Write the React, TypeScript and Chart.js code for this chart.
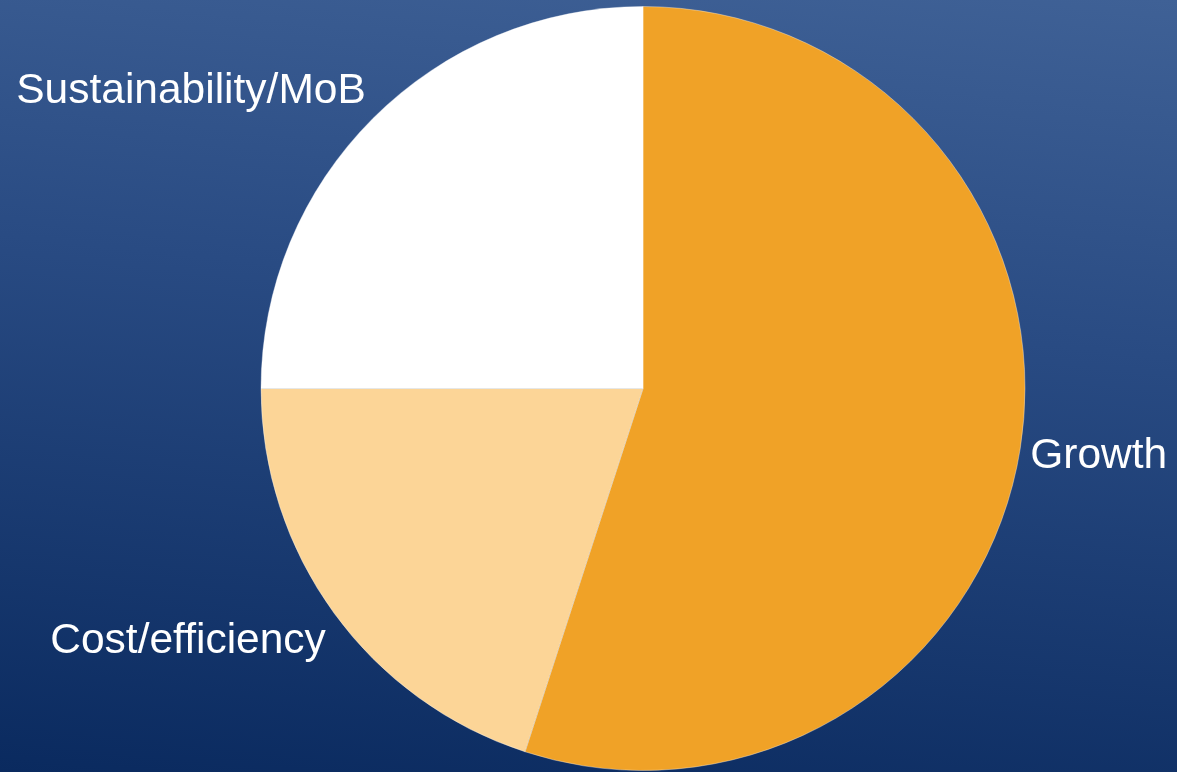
import React, { useEffect, useRef } from "react";
import { Chart, registerables } from "chart.js";

Chart.register(...registerables);

const categories = ["Growth", "Cost/efficiency", "Sustainability/MoB"];
const shares = [55, 20, 25];
const sliceColors = ["#F0A227", "#FCD597", "#FFFFFF"];

const outsideLabels = {
  id: "outsideLabels",
  afterDatasetsDraw(chart: any) {
    const ctx = chart.ctx;
    const meta = chart.getDatasetMeta(0);
    const fontSize = 42.5;
    ctx.save();
    ctx.font = `${fontSize}px "Liberation Sans", Arial, sans-serif`;
    ctx.fillStyle = "#FFFFFF";
    ctx.textBaseline = "middle";
    ctx.textAlign = "left";
    meta.data.forEach((arc: any, i: number) => {
      const mid = (arc.startAngle + arc.endAngle) / 2;
      const r = arc.outerRadius + 10;
      const ax = arc.x + Math.cos(mid) * r;
      const ay = arc.y + Math.sin(mid) * r;
      const text = chart.data.labels[i];
      const w = ctx.measureText(text).width;
      const h = fontSize;
      const hx = Math.max(-1, Math.min(1, Math.cos(mid) * 1.7));
      const vy = Math.max(-1, Math.min(1, Math.sin(mid) * 1.7));
      const left = ax - w / 2 + (hx * w) / 2;
      const cy = ay + (vy * h) / 2 + 1;
      ctx.fillText(text, left, cy);
    });
    ctx.restore();
  },
};

export default function App() {
  const canvasRef = useRef<HTMLCanvasElement | null>(null);

  useEffect(() => {
    document.body.style.margin = "0";
    const canvas = canvasRef.current;
    if (!canvas) return;
    const chart = new Chart(canvas, {
      type: "pie",
      data: {
        labels: categories,
        datasets: [
          {
            data: shares,
            backgroundColor: sliceColors,
            borderColor: "rgba(255,255,255,0.35)",
            borderWidth: 1,
          },
        ],
      },
      options: {
        animation: false,
        responsive: false,
        maintainAspectRatio: false,
        layout: { padding: { top: 6, bottom: 1, left: 109, right: 0 } },
        plugins: {
          legend: { display: false },
          tooltip: { enabled: false },
        },
      },
      plugins: [outsideLabels],
    });
    return () => chart.destroy();
  }, []);

  return (
    <div
      style={{
        position: "fixed",
        left: 0,
        top: 0,
        width: 1177,
        height: 772,
        background: "linear-gradient(186deg, #3f6196 0%, #294b83 40%, #0a2a5f 100%)",
      }}
    >
      <canvas ref={canvasRef} width={1177} height={772} style={{ display: "block" }} />
    </div>
  );
}
